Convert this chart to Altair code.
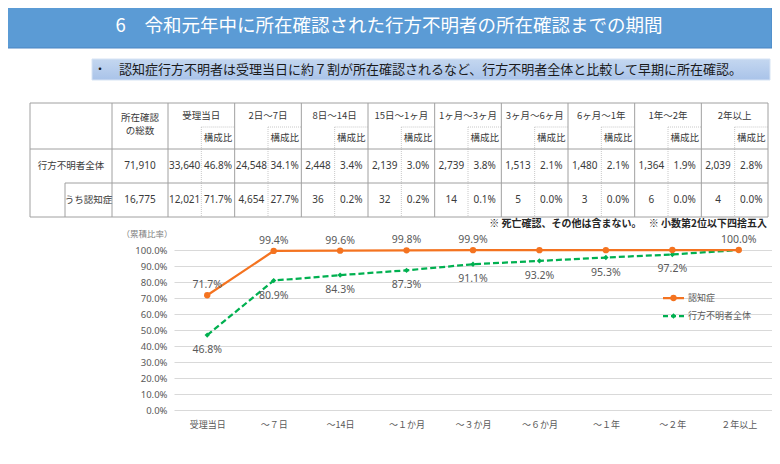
import altair as alt
import pandas as pd

# ---------------- data ----------------
categories = ["受理当日", "～７日", "～14日", "～１か月", "～３か月", "～６か月", "～１年", "～２年", "２年以上"]
series_names = ["認知症", "行方不明者全体"]
dementia_cum = [71.7, 99.4, 99.6, 99.8, 99.9, 99.9, 99.9, 100.0, 100.0]
all_cum = [46.8, 80.9, 84.3, 87.3, 91.1, 93.2, 95.3, 97.2, 100.0]
dementia_label_shown = [True, True, True, True, True, False, False, False, True]
all_label_shown = [True, True, True, True, True, True, True, True, False]
y_ticks = [0, 10, 20, 30, 40, 50, 60, 70, 80, 90, 100]

title_text = "6　令和元年中に所在確認された行方不明者の所在確認までの期間"
subtitle_bullet = "・"
subtitle_text = "認知症行方不明者は受理当日に約７割が所在確認されるなど、行方不明者全体と比較して早期に所在確認。"
note_text = "※ 死亡確認、その他は含まない。　 ※ 小数第2位以下四捨五入"
y_caption = "（累積比率）"

table_periods = ["受理当日", "2日～7日", "8日～14日", "15日～1ヶ月", "1ヶ月～3ヶ月",
                 "3ヶ月～6ヶ月", "6ヶ月～1年", "1年～2年", "2年以上"]
ratio_header = "構成比"
total_header = ["所在確認", "の総数"]
row_labels = ["行方不明者全体", "うち認知症"]
row_totals = ["71,910", "16,775"]
all_counts = ["33,640", "24,548", "2,448", "2,139", "2,739", "1,513", "1,480", "1,364", "2,039"]
all_ratios = ["46.8%", "34.1%", "3.4%", "3.0%", "3.8%", "2.1%", "2.1%", "1.9%", "2.8%"]
dem_counts = ["12,021", "4,654", "36", "32", "14", "5", "3", "6", "4"]
dem_ratios = ["71.7%", "27.7%", "0.2%", "0.2%", "0.1%", "0.0%", "0.0%", "0.0%", "0.0%"]

# ---------------- layout / style ----------------
JP = "Noto Sans CJK JP"
ORANGE = "#F47320"
GREEN = "#00B050"
GRAY_TXT = "#595959"
PAD_L, PAD_T = 166, 242
OX, OY = 8 + PAD_L, 8 + PAD_T
PLOT_W, PLOT_H = 598, 160


def X(p):
    return p - OX


def Y(p):
    return p - OY


def px_enc():
    return dict(x=alt.X("x:Q", scale=None), y=alt.Y("y:Q", scale=None))


layers = []

# banner
banner_df = pd.DataFrame({"x": [X(2)], "x2": [X(772)], "y": [Y(4)], "y2": [Y(48)]})
layers.append(alt.Chart(banner_df).mark_rect(fill="#5B9BD5", stroke="#4A84C2", strokeWidth=1).encode(
    x=alt.X("x:Q", scale=None), x2="x2:Q", y=alt.Y("y:Q", scale=None), y2="y2:Q"))
layers.append(alt.Chart(pd.DataFrame({"t": [title_text], "x": [X(389)], "y": [Y(26)]})).mark_text(
    font=JP, fontSize=18.5, color="white", align="center", baseline="middle").encode(text="t:N", **px_enc()))

# subtitle box
sub_df = pd.DataFrame({"x": [X(92)], "x2": [X(770)], "y": [Y(59)], "y2": [Y(80)]})
grad = alt.Gradient(gradient="linear", x1=0, x2=0, y1=0, y2=1,
                    stops=[alt.GradientStop(color="#C4D7F0", offset=0),
                           alt.GradientStop(color="#A9C3E9", offset=1)])
layers.append(alt.Chart(sub_df).mark_rect(fill=grad, stroke="#D6E3F4", strokeWidth=1).encode(
    x=alt.X("x:Q", scale=None), x2="x2:Q", y=alt.Y("y:Q", scale=None), y2="y2:Q"))
layers.append(alt.Chart(pd.DataFrame({"t": [subtitle_bullet], "x": [X(100)], "y": [Y(70)]})).mark_text(
    font=JP, fontSize=12, color="#1A1A1A", align="center", baseline="middle").encode(text="t:N", **px_enc()))
layers.append(alt.Chart(pd.DataFrame({"t": [subtitle_text], "x": [X(119)], "y": [Y(70)]})).mark_text(
    font=JP, fontSize=13, color="#1A1A1A", align="left", baseline="middle").encode(text="t:N", **px_enc()))

# table geometry
T_L, T_C1, T_C2, T_R = 30, 112, 168, 768
T_TOP, T_SUB, T_HB, T_R1B, T_BOT = 103, 127, 149, 183, 217
T_INNER = 65
COLW = (T_R - T_C2) / len(table_periods)

solid = [
    (T_L, T_TOP, T_R, T_TOP), (T_L, T_BOT, T_R, T_BOT), (T_L, T_HB, T_R, T_HB),
    (T_INNER, T_R1B, T_R, T_R1B), (T_INNER, T_R1B, T_INNER, T_BOT),
    (T_L, T_TOP, T_L, T_BOT), (T_C1, T_TOP, T_C1, T_BOT), (T_R, T_TOP, T_R, T_BOT),
]
dotted = []
for k in range(len(table_periods)):
    s = T_C2 + k * COLW
    solid.append((s, T_TOP, s, T_BOT))
    mid = s + COLW / 2
    dotted.append((mid, T_SUB, mid, T_BOT))
    dotted.append((mid, T_SUB, s + COLW, T_SUB))


def line_df(lst):
    return pd.DataFrame({"x": [X(a) for a, _, _, _ in lst], "y": [Y(b) for _, b, _, _ in lst],
                         "x2": [X(c) for _, _, c, _ in lst], "y2": [Y(d) for _, _, _, d in lst]})


layers.append(alt.Chart(line_df(dotted)).mark_rule(color="#C8C8C8", strokeWidth=1, strokeDash=[1, 1]).encode(
    x=alt.X("x:Q", scale=None), x2="x2:Q", y=alt.Y("y:Q", scale=None), y2="y2:Q"))
layers.append(alt.Chart(line_df(solid)).mark_rule(color="#A0A0A0", strokeWidth=1).encode(
    x=alt.X("x:Q", scale=None), x2="x2:Q", y=alt.Y("y:Q", scale=None), y2="y2:Q"))

# table texts
hdr_rows, num_rows = [], []
ROW_Y = [166, 200]
for k, p in enumerate(table_periods):
    s = T_C2 + k * COLW
    hdr_rows.append((p, s + COLW / 2, 116))
    hdr_rows.append((ratio_header, s + COLW * 0.75, 138))
hdr_rows.append((total_header[0], (T_C1 + T_C2) / 2, 118))
hdr_rows.append((total_header[1], (T_C1 + T_C2) / 2, 131))
hdr_rows.append((row_labels[0], (T_L + T_C1) / 2, ROW_Y[0]))
hdr_rows.append((row_labels[1], (T_INNER + T_C1) / 2, ROW_Y[1]))
for r, (cnts, rats) in enumerate([(all_counts, all_ratios), (dem_counts, dem_ratios)]):
    num_rows.append((row_totals[r], (T_C1 + T_C2) / 2, ROW_Y[r]))
    for k in range(len(table_periods)):
        s = T_C2 + k * COLW
        num_rows.append((cnts[k], s + COLW * 0.25, ROW_Y[r]))
        num_rows.append((rats[k], s + COLW * 0.75, ROW_Y[r]))


def text_df(rows):
    return pd.DataFrame({"t": [a for a, _, _ in rows], "x": [X(b) for _, b, _ in rows],
                         "y": [Y(c) for _, _, c in rows]})


layers.append(alt.Chart(text_df(hdr_rows)).mark_text(
    font=JP, fontSize=9.5, color="#3A3A3A", align="center", baseline="middle").encode(text="t:N", **px_enc()))
layers.append(alt.Chart(text_df(num_rows)).mark_text(
    font="Noto Sans", fontSize=10, color="#3A3A3A", align="center", baseline="middle").encode(text="t:N", **px_enc()))

# note
layers.append(alt.Chart(pd.DataFrame({"t": [note_text], "x": [X(767)], "y": [Y(224)]})).mark_text(
    font=JP, fontSize=10, fontWeight="bold", color="#262626", align="right", baseline="middle").encode(
    text="t:N", **px_enc()))
# y caption
layers.append(alt.Chart(pd.DataFrame({"t": [y_caption], "x": [X(147)], "y": [Y(234)]})).mark_text(
    font=JP, fontSize=8.5, color="#7F7F7F", align="center", baseline="middle").encode(text="t:N", **px_enc()))

# ---------------- line chart ----------------
dem_df = pd.DataFrame({"cat": categories, "value": dementia_cum, "series": series_names[0],
                       "show": dementia_label_shown})
all_df = pd.DataFrame({"cat": categories, "value": all_cum, "series": series_names[1],
                       "show": all_label_shown})
for d in (dem_df, all_df):
    d["label"] = [f"{v:.1f}%" for v in d["value"]]

x_enc = alt.X("cat:N", sort=categories, scale=alt.Scale(type="point", padding=0.5),
              axis=alt.Axis(title=None, labelAngle=0, labelFont=JP, labelFontSize=9, labelColor=GRAY_TXT,
                            labelPadding=10, domain=False, ticks=False, grid=False))
y_enc = alt.Y("value:Q", scale=alt.Scale(domain=[0, 100], nice=False),
              axis=alt.Axis(title=None, values=y_ticks, labelExpr="format(datum.value, '.1f') + '%'",
                            labelFont="Noto Sans", labelFontSize=9.5, labelColor=GRAY_TXT, labelPadding=7,
                            domain=False, ticks=False, grid=True, gridColor="#D9D9D9", gridWidth=1))

layers.append(alt.Chart(all_df).mark_line(color=GREEN, strokeWidth=2.25, strokeDash=[6, 3]).encode(x=x_enc, y=y_enc))
layers.append(alt.Chart(all_df).mark_point(shape="diamond", filled=True, size=28, color=GREEN, opacity=1).encode(
    x=x_enc, y=y_enc))
layers.append(alt.Chart(dem_df).mark_line(color=ORANGE, strokeWidth=2.25).encode(x=x_enc, y=y_enc))
layers.append(alt.Chart(dem_df).mark_point(shape="circle", filled=True, size=40, color=ORANGE, opacity=1).encode(
    x=x_enc, y=y_enc))
layers.append(alt.Chart(dem_df).transform_filter("datum.show").mark_text(
    font="Noto Sans", fontSize=10.5, color=GRAY_TXT, dy=-10, baseline="middle").encode(
    x=x_enc, y=y_enc, text="label:N"))
layers.append(alt.Chart(all_df).transform_filter("datum.show").mark_text(
    font="Noto Sans", fontSize=10.5, color=GRAY_TXT, dy=15, baseline="middle").encode(
    x=x_enc, y=y_enc, text="label:N"))

# ---------------- legend ----------------
LEG_X1, LEG_X2, LEG_TX = 663, 684, 688
LEG_Y = [298, 316]
leg_styles = [(ORANGE, [1, 0], "circle", 40), (GREEN, [5, 3], "diamond", 28)]
for i, name in enumerate(series_names):
    col, dash, shp, sz = leg_styles[i]
    ldf = pd.DataFrame({"x": [X(LEG_X1)], "x2": [X(LEG_X2)], "y": [Y(LEG_Y[i])],
                        "mx": [X((LEG_X1 + LEG_X2) / 2)], "tx": [X(LEG_TX)], "t": [name]})
    layers.append(alt.Chart(ldf).mark_rule(color=col, strokeWidth=2.25, strokeDash=dash).encode(
        x=alt.X("x:Q", scale=None), x2="x2:Q", y=alt.Y("y:Q", scale=None)))
    layers.append(alt.Chart(ldf).mark_point(shape=shp, filled=True, size=sz, color=col, opacity=1).encode(
        x=alt.X("mx:Q", scale=None), y=alt.Y("y:Q", scale=None)))
    layers.append(alt.Chart(ldf).mark_text(font=JP, fontSize=9, color=GRAY_TXT, align="left",
                                           baseline="middle").encode(
        x=alt.X("tx:Q", scale=None), y=alt.Y("y:Q", scale=None), text="t:N"))

chart = alt.layer(*layers).properties(
    width=PLOT_W, height=PLOT_H,
    padding={"left": PAD_L, "top": PAD_T, "right": 0, "bottom": 40},
    autosize=alt.AutoSizeParams(type="none"),
).configure_view(stroke=None)

chart.save("out.html", embed_options={"renderer": "svg", "actions": False})
